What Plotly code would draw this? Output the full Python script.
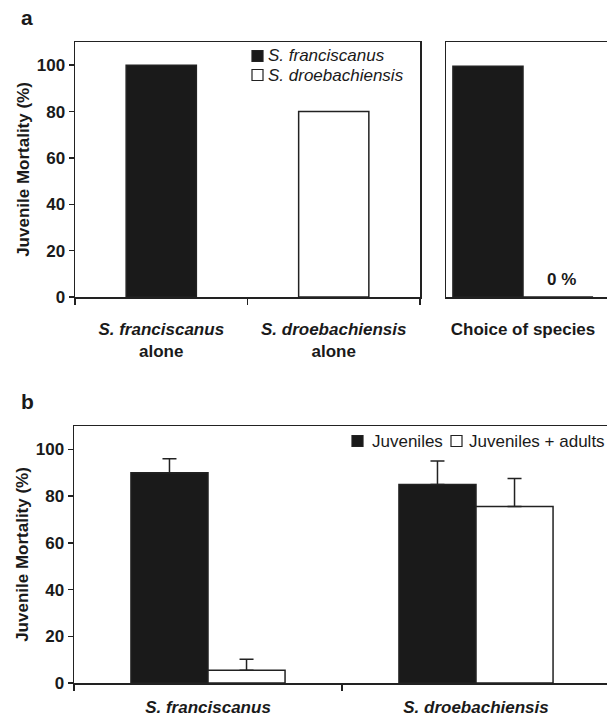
import plotly.graph_objects as go

# ---------------- data ----------------
# Panel a
species_a = ["S. franciscanus", "S. droebachiensis"]
alone_mortality = [100, 80]          # each species alone
choice_label = "Choice of species"
choice_mortality = [99.5, 0]         # franciscanus, droebachiensis when given the choice

# Panel b
species_b = ["S. franciscanus", "S. droebachiensis"]
groups_b = ["Juveniles", "Juveniles + adults"]
juveniles = [90, 85]
juveniles_err = [6, 10]
juv_adults = [5.5, 75.5]
juv_adults_err = [4.7, 12]

yticks = [0, 20, 40, 60, 80, 100]
ytitle = "Juvenile Mortality (%)"

# ---------------- styling ----------------
# the original figure is cropped at its right edge: draw a wider figure and
# let the 607 px window crop it the same way
W, H = 660, 717
FONT = "Liberation Sans, Arial, sans-serif"
INK = "#1a1a1a"
LINE = "#222222"


def px_x(p):
    return p / W


def px_y(p):
    return 1 - p / H


fig = go.Figure()

labels_a = [f"<b><i>{s}</i></b><br><b>alone</b>" for s in species_a]
fills = [INK, "white"]

# panel a, left: species alone
for i, s in enumerate(species_a):
    fig.add_trace(go.Bar(
        x=[labels_a[i]], y=[alone_mortality[i]], name=s,
        width=0.407, offset=-0.2035,
        marker=dict(color=fills[i], line=dict(color=LINE, width=1.5)),
        xaxis="x", yaxis="y", showlegend=False,
    ))

# panel a, right: choice of species
choice_w = 0.455
for i, s in enumerate(species_a):
    fig.add_trace(go.Bar(
        x=[f"<b>{choice_label}</b>"], y=[choice_mortality[i]], name=s,
        width=choice_w, offset=-choice_w + i * choice_w,
        marker=dict(color=fills[i], line=dict(color=LINE, width=1.5)),
        xaxis="x2", yaxis="y2", showlegend=False,
    ))

# annotate the zero bar
fig.add_annotation(
    x=choice_w / 2 + 0.025, y=7.5, xref="x2", yref="y2",
    text=f"<b>{choice_mortality[1]:.0f} %</b>", showarrow=False,
    font=dict(family=FONT, size=17, color=INK), yanchor="middle",
)

# panel b
labels_b = [f"<b><i>{s}</i></b>" for s in species_b]
for name, vals, errs, fill in [(groups_b[0], juveniles, juveniles_err, INK),
                               (groups_b[1], juv_adults, juv_adults_err, "white")]:
    fig.add_trace(go.Bar(
        x=labels_b, y=vals, name=name,
        marker=dict(color=fill, line=dict(color=LINE, width=1.5)),
        error_y=dict(type="data", array=errs, arrayminus=[0] * len(errs),
                     symmetric=False, color=LINE, thickness=1.5, width=7),
        xaxis="x3", yaxis="y3", showlegend=False,
    ))

tickfont = dict(family=FONT, size=17, color=INK, weight="bold")
titlefont = dict(family=FONT, size=17, color=INK, weight="bold")


def yaxis_common(domain, show_ticks=True, mirror=True):
    return dict(
        domain=domain, range=[0, 110], tickvals=yticks if show_ticks else [],
        showticklabels=show_ticks, ticks="outside" if show_ticks else "",
        ticklen=5, tickwidth=1.5, tickcolor=LINE,
        showline=True, linecolor=LINE, linewidth=1.5, mirror=mirror,
        showgrid=False, zeroline=False, tickfont=tickfont, automargin=False,
        fixedrange=True,
    )


def xaxis_common(domain, anchor, **kw):
    d = dict(domain=domain, type="category", anchor=anchor,
             showline=True, linecolor=LINE, linewidth=1.5, mirror=True,
             showgrid=False, zeroline=False, automargin=False, fixedrange=True,
             tickwidth=1.5, tickcolor=LINE)
    d.update(kw)
    return d


dom_a = [px_y(297), px_y(42)]
dom_b = [px_y(683), px_y(426)]

# pixel geometry of category units (left edge, px per category, right edge)
a2_left, a2_unit, a2_right = 446, 154, 650
b_left, b_unit, b_right = 74, 268, 650

fig.update_layout(
    template="none",
    width=W, height=H, autosize=False,
    margin=dict(l=0, r=0, t=0, b=0, pad=0),
    paper_bgcolor="white", plot_bgcolor="white",
    barmode="group", bargap=0.425, bargroupgap=0,
    font=dict(family=FONT, size=17, color=INK),
    showlegend=False,
    xaxis=xaxis_common([px_x(75), px_x(420)], "y", tickson="boundaries",
                       ticks="outside", ticklen=6, tickfont=tickfont,
                       ticklabelstandoff=16),
    yaxis=dict(**yaxis_common(dom_a), anchor="x",
               title=dict(text=ytitle, font=titlefont, standoff=3)),
    xaxis2=xaxis_common([px_x(a2_left), px_x(a2_right)], "y2",
                        range=[-0.5, -0.5 + (a2_right - a2_left) / a2_unit], ticks="",
                        tickfont=dict(family=FONT, size=17, color=INK),
                        ticklabelstandoff=16),
    yaxis2=dict(**yaxis_common(dom_a, show_ticks=False, mirror=False), anchor="x2"),
    xaxis3=xaxis_common([px_x(b_left), px_x(b_right)], "y3",
                        range=[-0.5, 1.49],
                        tickson="boundaries", ticks="outside", ticklen=6,
                        tickfont=dict(family=FONT, size=17, color=INK),
                        ticklabelstandoff=8),
    yaxis3=dict(**yaxis_common(dom_b, mirror=False), anchor="x3",
                title=dict(text=ytitle, font=titlefont, standoff=3)),
)
# keep panel b's category scale (268 px per category) on the wider plot area
fig.layout.xaxis3.range = [-0.5, -0.5 + (b_right - b_left) / b_unit]

# ---------- legends (key squares + text) ----------
def legend_item(x_sq, y_c, fill, label, x_txt, italic):
    fig.add_shape(type="rect", xref="paper", yref="paper",
                  x0=px_x(x_sq), x1=px_x(x_sq + 11),
                  y0=px_y(y_c + 5.5), y1=px_y(y_c - 5.5),
                  fillcolor=fill, line=dict(color=LINE, width=1.2))
    txt = f"<i>{label}</i>" if italic else label
    fig.add_annotation(x=px_x(x_txt), y=px_y(y_c), xref="paper", yref="paper",
                       text=txt, showarrow=False, xanchor="left", yanchor="middle",
                       font=dict(family=FONT, size=17, color=INK))

legend_item(252, 56, fills[0], species_a[0], 266, True)
legend_item(252, 75, fills[1], species_a[1], 266, True)
legend_item(352, 441, INK, groups_b[0], 370, False)
legend_item(451, 441, "white", groups_b[1], 467, False)

# panel letters
for letter, ypx in [("a", 18), ("b", 401)]:
    fig.add_annotation(x=px_x(27), y=px_y(ypx), xref="paper", yref="paper",
                       text=f"<b>{letter}</b>", showarrow=False,
                       font=dict(family=FONT, size=21, color=INK),
                       xanchor="center", yanchor="middle")

fig.write_html(
    "out.html",
    config={"responsive": False, "displayModeBar": False, "staticPlot": True},
    default_width=f"{W}px", default_height=f"{H}px",
    post_script="document.body.style.margin='0';document.body.style.overflow='hidden';",
)
